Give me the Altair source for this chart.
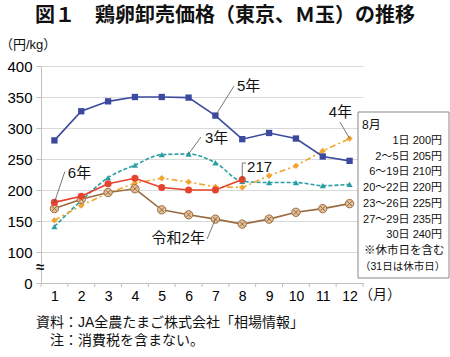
import altair as alt
import pandas as pd

# ---- data ----
months = list(range(1, 13))
r2 = [170, 185, 196, 202, 168, 160, 153, 145, 153, 164, 170, 178]   # 令和2年
r3 = [141, 183, 220, 240, 257, 258, 244, 214, 212, 212, 207, 209]   # 3年
r4 = [151, 175, 195, 211, 219, 213, 205, 204, 223, 239, 263, 283]   # 4年
r5 = [280, 327, 343, 350, 350, 349, 320, 282, 292, 283, 254, 247]   # 5年
r6 = [180, 190, 210, 219, 204, 200, 200, 217]                       # 6年
y_ticks = [50, 100, 150, 200, 250, 300, 350, 400]
x_labels = months
x_bounds = [i + 0.5 for i in range(0, 13)]
box_lines = ["1日 200円", "2～5日 205円", "6～19日 210円", "20～22日 220円",
             "23～26日 225円", "27～29日 235円", "30日 240円"]
box_notes = ["※休市日を含む", "（31日は休市日）"]

FONT = "Liberation Sans, Noto Sans CJK JP"
W, H = 322, 217

xs = alt.Scale(domain=[0.5, 12.5], nice=False, zero=False)
ys = alt.Scale(domain=[50, 400], nice=False, zero=False)

XAX = alt.Axis(values=x_labels, grid=False, title=None, labelFlush=False,
               labelOverlap=False, ticks=False, domainColor="#bfbfbf",
               labelPadding=6, labelFontSize=14, labelColor="#000", labelFont=FONT)
YAX = alt.Axis(values=y_ticks, labelExpr="datum.value == 50 ? '0' : datum.value",
               grid=True, gridColor="#d9d9d9", title=None, labelOverlap=False,
               tickSize=5, tickColor="#bfbfbf", domainColor="#bfbfbf",
               labelPadding=4, labelFontSize=15, labelColor="#000", labelFont=FONT)


def X(f):
    return alt.X(f, scale=xs, axis=XAX)


def Y(f):
    return alt.Y(f, scale=ys, axis=YAX)


def series(vals, color, shape, size, dash=None, interp="linear", fill=None):
    df = pd.DataFrame({"m": months[:len(vals)], "v": vals})
    base = alt.Chart(df).encode(x=X("m:Q"), y=Y("v:Q"))
    lk = dict(color=color, strokeWidth=1.6, interpolate=interp)
    if dash:
        lk["strokeDash"] = dash
    line = base.mark_line(**lk)
    pk = dict(shape=shape, size=size, filled=True, opacity=1, color=fill or color)
    if fill:
        pk["stroke"] = color
        pk["strokeWidth"] = 1
    pts = base.mark_point(**pk)
    return [line, pts]


# x tick marks at month boundaries
tick_layer = alt.Chart(pd.DataFrame({"b": x_bounds})).mark_rule(
    color="#bfbfbf", strokeWidth=1
).encode(x=X("b:Q"), y=alt.value(H), y2=alt.value(H + 4))

layers = []
layers += series(r3, "#2a9ea2", "triangle-up", 38, dash=[4, 2], interp="monotone")
layers += series(r4, "#f2a431", "diamond", 40, dash=[6, 3, 2, 3])
df2 = pd.DataFrame({"m": months, "v": r2})
layers += series(r2, "#9a6b40", "circle", 70, fill="#e2c19a")
layers.append(alt.Chart(df2).mark_point(
    shape="M-0.6,-0.6L0.6,0.6M-0.6,0.6L0.6,-0.6", size=70, filled=False,
    color="#9a6b40", strokeWidth=1, opacity=1
).encode(x=X("m:Q"), y=Y("v:Q")))
layers += series(r6, "#e5432b", "circle", 50)
layers += series(r5, "#3b4a9f", "square", 40)

# leader lines (data coordinates)
lead = pd.DataFrame({
    "x1": [7, 6, 1, 7, 8, 8, 12],
    "y1": [320, 258, 180, 153, 217, 243.5, 283],
    "x2": [7.69, 6.46, 1.39, 6.69, 8.0, 8.14, 11.64],
    "y2": [367.5, 285.5, 229.8, 121, 243.5, 243.5, 309.7],
})
lead_layer = alt.Chart(lead).mark_rule(color="#555", strokeWidth=0.8).encode(
    x=X("x1:Q"), y=Y("y1:Q"), x2="x2:Q", y2="y2:Q")

ann = pd.DataFrame({
    "t": ["5年", "3年", "6年", "令和2年", "217", "4年"],
    "x": [7.8, 6.61, 1.5, 6.61, 8.18, 11.66],
    "y": [367, 284, 227.4, 122.6, 237, 325.8],
    "a": ["left", "left", "left", "right", "left", "center"],
})
ann_layers = []
for _, r in ann.iterrows():
    ann_layers.append(alt.Chart(pd.DataFrame([r])).mark_text(
        align=r["a"], baseline="middle", fontSize=15, font=FONT, color="#111"
    ).encode(x=X("x:Q"), y=Y("y:Q"), text="t:N"))

# legend box
box = alt.Chart(pd.DataFrame({"a": [0]})).mark_rect(
    fill="white", stroke="#888", strokeWidth=1
).encode(x=alt.value(317), x2=alt.value(408), y=alt.value(46), y2=alt.value(212))

dummy = pd.DataFrame({"a": [0]})


def txt(s, x, y, align="left", size=12, weight="normal"):
    return alt.Chart(dummy).mark_text(
        text=s, align=align, baseline="middle", fontSize=size, font=FONT,
        color="#111", fontWeight=weight
    ).encode(x=alt.value(x), y=alt.value(y))


box_texts = [txt("8月", 321, 125 - 66)]
for i, s in enumerate(box_lines):
    box_texts.append(txt(s, 401, 141 - 66 + i * 15.7, align="right", size=11))
box_texts.append(txt(box_notes[0], 323, 251 - 66, size=11.5))
box_texts.append(txt(box_notes[1], 319, 266.5 - 66, size=10.5))

extra = [
    txt("図１　鶏卵卸売価格（東京、Ｍ玉）の推移", 184, 16 - 66, align="center", size=20, weight="bold"),
    txt("（円/kg）", -41, 45 - 66, size=13),
    txt("≈", -1, 267 - 66, align="center", size=15, weight="bold"),
    txt("（月）", 318, 295 - 66, size=14),
    txt("資料：JA全農たまご株式会社「相場情報」", -5, 323 - 66, size=14),
    txt("注：消費税を含まない。", 9, 341 - 66, size=14),
]

chart = alt.layer(tick_layer, *layers, lead_layer, *ann_layers, box, *box_texts, *extra).properties(
    width=W, height=H,
    autosize=alt.AutoSizeParams(type="none"),
    padding={"left": 41, "top": 66, "right": 87, "bottom": 74},
    background="white",
).configure_view(stroke=None)

chart.save("out.html", embed_options={"renderer": "svg", "actions": False})
